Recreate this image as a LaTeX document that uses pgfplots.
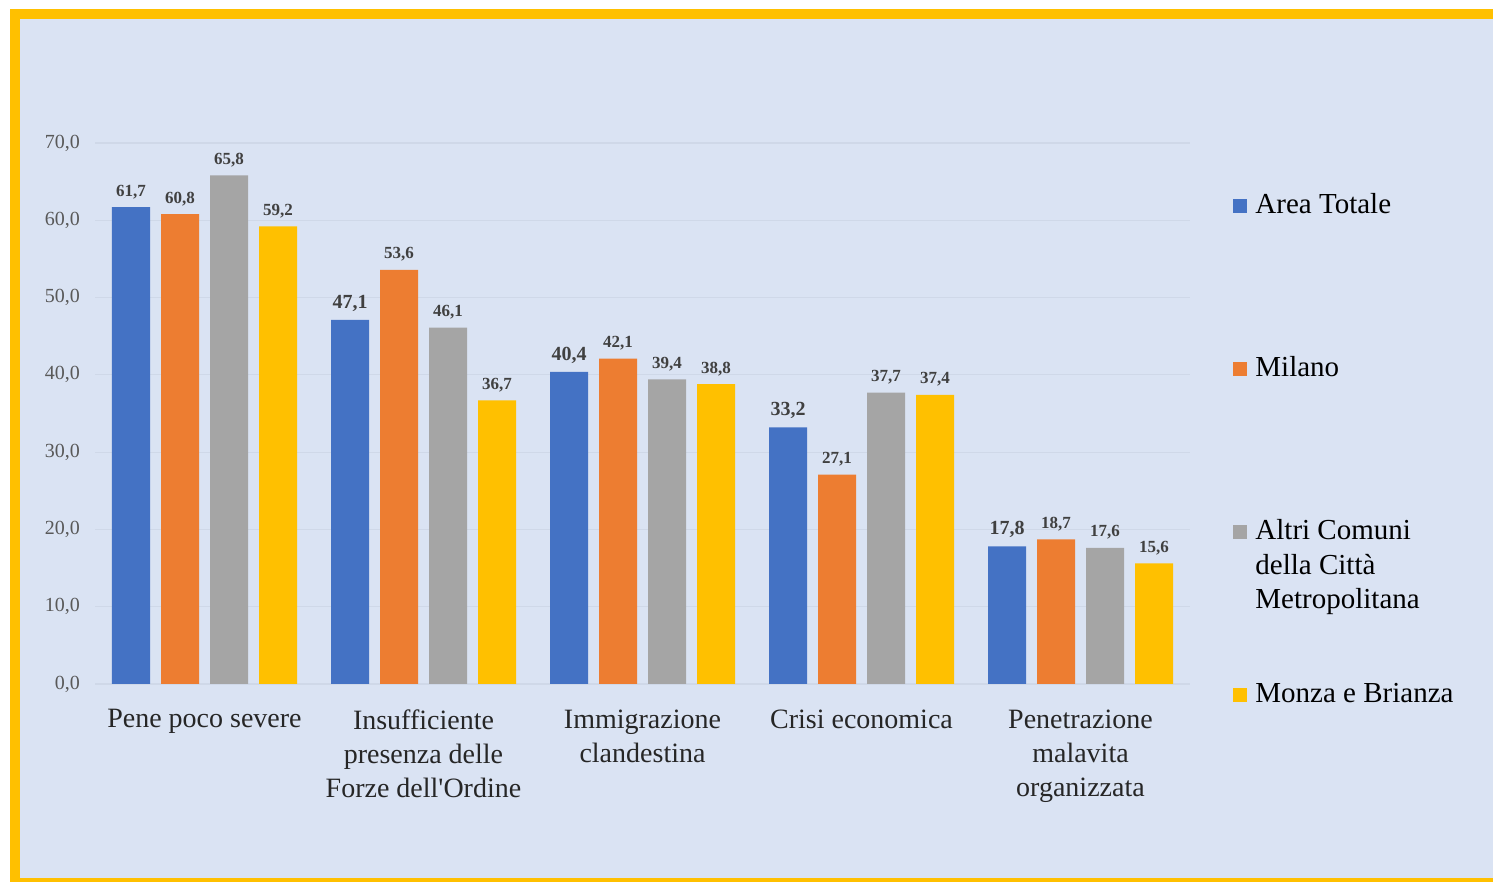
\documentclass[border=0pt]{standalone}
\usepackage{fontspec}
\setmainfont{Liberation Serif}[Ligatures=TeXOff]
\usepackage{pgfplots}
\pgfplotsset{compat=1.18}

\definecolor{frameyel}{HTML}{FFC000}
\definecolor{panel}{HTML}{DAE3F3}
\definecolor{gridc}{HTML}{CFD8E8}
\definecolor{cblue}{HTML}{4472C4}
\definecolor{corange}{HTML}{ED7D31}
\definecolor{cgray}{HTML}{A5A5A5}
\definecolor{cyellow}{HTML}{FFC000}
\definecolor{ticktxt}{HTML}{595959}
\definecolor{lbltxt}{HTML}{404040}

\begin{document}
\begin{tikzpicture}
  % page = 1493x882 px, 1px = 0.5pt
  \useasboundingbox (0,0) rectangle (746.5pt,441pt);
  \fill[white] (0,0) rectangle (746.5pt,441pt);
  \fill[frameyel] (5pt,0pt) rectangle (746.5pt,436.5pt);
  \fill[panel] (10pt,2pt) rectangle (746.5pt,431.5pt);

  \begin{axis}[
      at={(47.5pt,99pt)}, anchor=south west,
      scale only axis,
      width=547.5pt, height=270.5pt,
      ybar=5.5pt, bar width=19pt,
      ymin=0, ymax=70, ytick={0,10,...,70},
      xmin=-0.5, xmax=4.5, xtick={0,...,4},
      xticklabels={Pene poco severe,
                   {Insufficiente\\presenza delle\\Forze dell'Ordine},
                   {Immigrazione\\clandestina},
                   Crisi economica,
                   {Penetrazione\\malavita\\organizzata}},
      axis line style={draw=none},
      tick style={draw=none},
      ymajorgrids,
      major grid style={gridc, line width=0.6pt},
      clip=false,
      /pgf/number format/.cd, fixed, fixed zerofill, precision=1,
        use comma, assume math mode=true, /pgfplots/.cd,
      yticklabel style={font=\fontsize{10}{12}\selectfont, text=ticktxt,
        xshift=-4pt},
      xticklabel style={font=\fontsize{14}{17}\selectfont, text=black!85,
        align=center, yshift=-5pt},
      nodes near coords,
      every node near coord/.append style={
        font=\fontsize{8.5}{10}\bfseries, text=lbltxt, inner sep=2pt,
        yshift=2pt},
      legend image code/.code={\fill[#1] (0pt,0pt) rectangle (7pt,7pt);},
      legend style={
        at={(1.0393,0.9076)}, anchor=north west,
        draw=none, fill=none, inner sep=0pt,
        font=\fontsize{14.5}{17.3}\selectfont,
        cells={anchor=base west},
        nodes={inner sep=0pt, text height=10pt, text depth=0pt},
        row sep=71.5pt, column sep=4pt,
      },
    ]
    \addplot[draw=none, fill=cblue,
      nodes near coords={\ifnum\coordindex>0 \fontsize{10}{12}\selectfont\fi
        \pgfmathprintnumber{\pgfplotspointmeta}}] coordinates {
      (0,61.7) (1,47.1) (2,40.4) (3,33.2) (4,17.8)};
    \addplot[draw=none, fill=corange] coordinates {
      (0,60.8) (1,53.6) (2,42.1) (3,27.1) (4,18.7)};
    \addplot[draw=none, fill=cgray] coordinates {
      (0,65.8) (1,46.1) (2,39.4) (3,37.7) (4,17.6)};
    \addplot[draw=none, fill=cyellow] coordinates {
      (0,59.2) (1,36.7) (2,38.8) (3,37.4) (4,15.6)};
    \addlegendentry{Area Totale}
    \addlegendentry{Milano}
    \addlegendentry{\begin{tabular}[t]{@{}l@{}}Altri Comuni\\della Città\\Metropolitana\end{tabular}}
    \addlegendentry{Monza e Brianza}
  \end{axis}
\end{tikzpicture}
\end{document}
